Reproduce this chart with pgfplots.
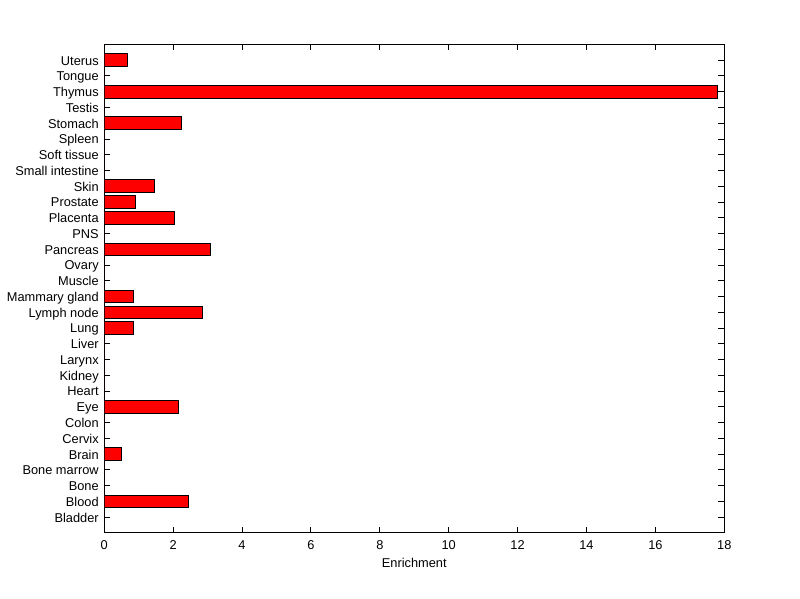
\documentclass[border=0pt]{standalone}
\usepackage{fontspec}
\setmainfont{Liberation Sans}
\usepackage{pgfplots}
\pgfplotsset{compat=1.18}

\begin{document}
\begin{tikzpicture}
  \path[use as bounding box, fill=white] (-78.2pt,-49.5pt) rectangle ++(600pt,449.25pt);
  \begin{axis}[
    xbar, bar width=0.8,
    at={(0pt,0pt)}, anchor=south west,
    scale only axis, width=465pt, height=366.4pt,
    font=\fontsize{9.6}{11}\selectfont,
    xmin=0, xmax=18, ymin=-1, ymax=30,
    xtick={0,2,...,18},
    ytick={0,...,29},
    yticklabels={Bladder,Blood,Bone,Bone marrow,Brain,Cervix,Colon,Eye,Heart,Kidney,Larynx,Liver,Lung,Lymph node,Mammary gland,Muscle,Ovary,Pancreas,PNS,Placenta,Prostate,Skin,Small intestine,Soft tissue,Spleen,Stomach,Testis,Thymus,Tongue,Uterus},
    tick align=inside, major tick length=4.5pt,
    axis line style={black, line width=0.75pt},
    tick style={black, line width=0.75pt},
    /pgf/number format/assume math mode=true,
    yticklabel style={anchor=east, inner sep=0pt, text height=0.72em, text depth=0pt, xshift=-4pt},
    xticklabel style={inner sep=0pt, yshift=-5.2pt},
    xlabel={Enrichment},
    xlabel style={at={(axis description cs:0.5,0)}, anchor=center, yshift=-22.5pt},
  ]
  \addplot[fill=red, draw=black, line width=0.75pt] coordinates {
    (0,0) (2.45,1) (0,2) (0,3) (0.49,4) (0,5) (0,6) (2.15,7) (0,8) (0,9)
    (0,10) (0,11) (0.85,12) (2.85,13) (0.85,14) (0,15) (0,16) (3.09,17) (0,18) (2.03,19)
    (0.90,20) (1.45,21) (0,22) (0,23) (0,24) (2.25,25) (0,26) (17.81,27) (0,28) (0.67,29)
  };
  \end{axis}
\end{tikzpicture}
\end{document}
